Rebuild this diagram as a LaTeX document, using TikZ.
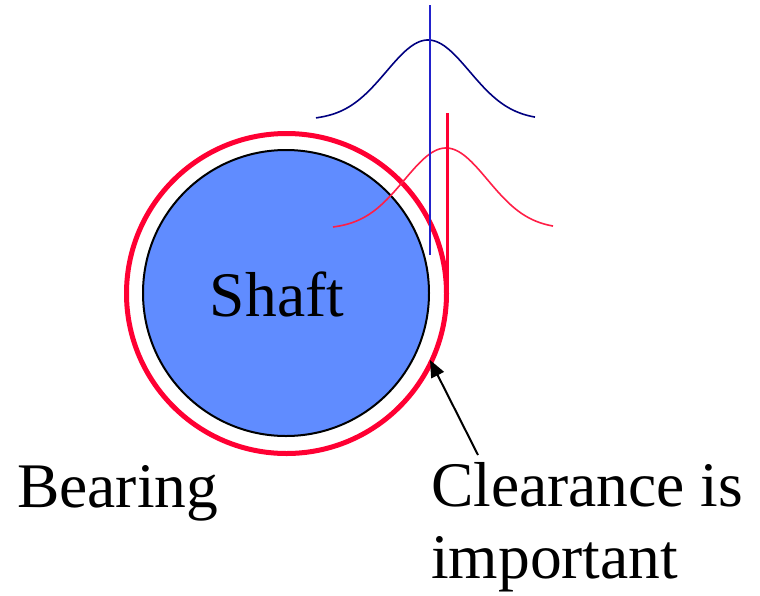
\documentclass[tikz,border=0pt]{standalone}
\usepackage{fontspec}
\setmainfont{Liberation Serif}
\usetikzlibrary{arrows.meta}
\definecolor{shaftblue}{RGB}{96,140,255}
\definecolor{bearred}{RGB}{255,0,51}
\definecolor{curvered}{RGB}{255,30,70}
\definecolor{navy}{RGB}{0,0,128}
\definecolor{lineblue}{RGB}{34,34,204}
\tikzset{
  lbl/.style={font=\fontsize{63.5}{70}\selectfont, inner sep=0pt, anchor=base west},
  gauss/.style={line width=1.6pt, smooth},
}
\begin{document}
\begin{tikzpicture}[x=1pt,y=-1pt]
\useasboundingbox (0,0) rectangle (760,595);
% bearing and shaft
\node[circle, draw=bearred, line width=5pt, minimum size=320pt, inner sep=0pt] (bearing) at (286.5,293.5) {};
\node[circle, draw=black, fill=shaftblue, line width=2pt, minimum size=286pt, inner sep=0pt] (shaft) at (286,293) {};
\node[lbl, anchor=base] (shafttext) at (277,316) {Shaft};
% distributions
\draw[gauss, navy] plot[domain=-112:107, samples=90] ({428+\x},{120-80*exp(-0.5*(\x/41.6)^2)});
\draw[gauss, curvered] plot[domain=-113:107, samples=90] ({446+\x},{229-81*exp(-0.5*(\x/41.6)^2)});
\coordinate (btop) at (430,5);
\coordinate (bbot) at (430,255);
\coordinate (rtop) at (447.5,113);
\coordinate (rbot) at (447.5,292);
\draw[lineblue, line width=2.2pt] (btop) -- (bbot);
\draw[bearred, line width=2.2pt] (rtop) -- (rbot);
% labels
\node[lbl] (bear) at (17,507) {Bearing};
\node[lbl] (clear) at (431,506) {Clearance is};
\node[lbl] (imp) at (431,578) {important};
% arrow
\coordinate (astart) at (478,455);
\coordinate (tip) at (430,360);
\draw[line width=2pt, -{Triangle[length=17pt,width=14pt]}] (astart) -- (tip);
\end{tikzpicture}
\end{document}
